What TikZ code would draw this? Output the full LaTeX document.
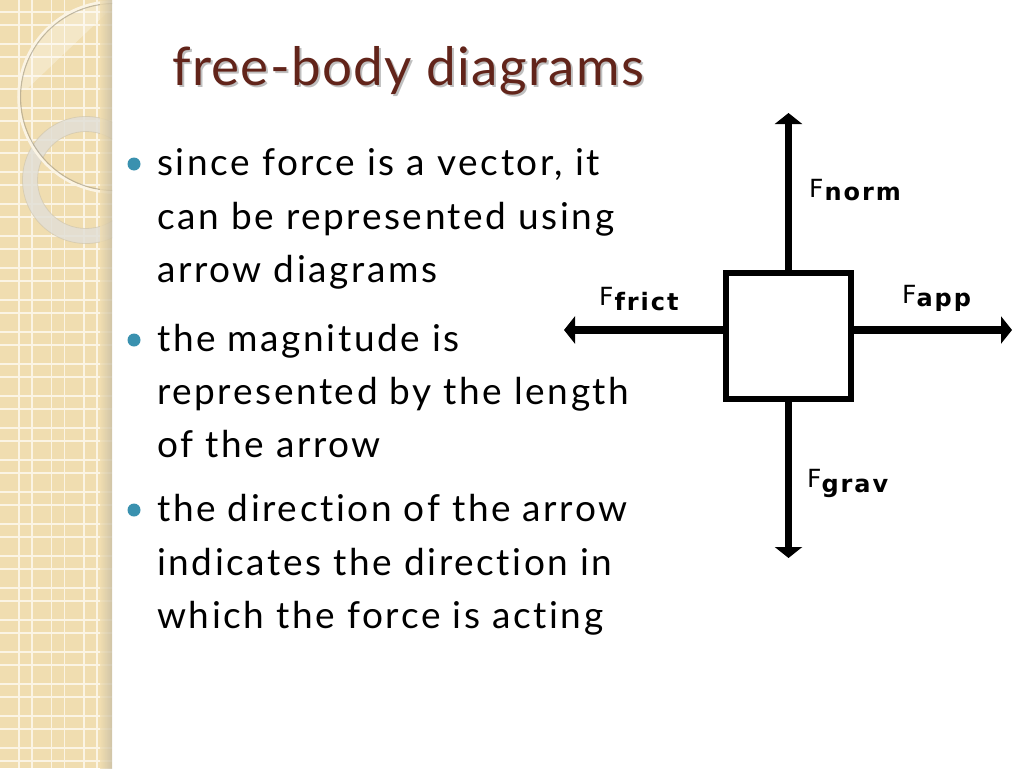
\documentclass[tikz,border=0pt]{standalone}
\usepackage{fontspec}
\usepackage{graphicx}
\setmainfont{Lato}[Ligatures=NoCommon]
\newfontfamily\bodyfont{Lato}[Ligatures=NoCommon, LetterSpace=7]
\newfontfamily\titlefont{Lato}[Ligatures=NoCommon, LetterSpace=2.5]
\newfontfamily\labelfont{DejaVu Sans}
\newfontfamily\labelboldfont{DejaVu Sans Bold}[LetterSpace=8]
\usetikzlibrary{arrows.meta}
\definecolor{stripbeige}{RGB}{240,221,176}
\definecolor{gridwhite}{RGB}{251,244,228}
\definecolor{stripshadow}{RGB}{200,190,165}
\definecolor{titlebrown}{RGB}{98,36,26}
\definecolor{bulletteal}{RGB}{58,145,175}
\definecolor{ringgray}{RGB}{226,223,214}
\tikzset{
  bodyline/.style={anchor=base west, inner sep=0pt, font=\bodyfont\fontsize{37}{37}\selectfont},
  titletext/.style={anchor=base west, inner sep=0pt, font=\titlefont\fontsize{53}{53}\selectfont},
  bulletdot/.style={circle, fill=bulletteal, inner sep=0pt, minimum size=13pt},
  force/.style={line width=7.5pt, -{Triangle[width=27pt,length=11pt]}},
  body/.style={draw, line width=6pt, minimum width=125pt, minimum height=126pt, inner sep=0pt, fill=white},
  forcelabel/.style={anchor=base west, inner sep=0pt},
}
\newcommand{\Fsym}{{\labelfont\fontsize{25}{25}\selectfont F}}
\newcommand{\Fsub}[2]{\raisebox{-#1pt}{\labelboldfont\fontsize{24}{24}\selectfont #2}}
\begin{document}
\begin{tikzpicture}[x=1pt,y=-1pt]
\useasboundingbox (0,0) rectangle (1024,768);
\fill[white] (0,0) rectangle (1024,768);
% left decorative strip
\begin{scope}
\clip (0,0) rectangle (112,768);
\fill[stripbeige] (0,0) rectangle (112,768);
\foreach \i in {0,...,3} {
  \draw[gridwhite, line width=1.6pt] ({32.5*\i-13.5},0) -- ({32.5*\i-13.5},768);
  \draw[gridwhite, line width=1.6pt] ({32.5*\i-0.5},0) -- ({32.5*\i-0.5},768);
}
\foreach \j in {0,...,24} {
  \draw[gridwhite, line width=1.6pt] (0,{32*\j+12}) -- (112,{32*\j+12});
  \draw[gridwhite, line width=1.6pt] (0,{32*\j+25}) -- (112,{32*\j+25});
}
\begin{scope}
\clip (114,97) circle (95);
\fill[white, opacity=0.3] (0,0) -- (112,0) -- (112,8) -- (28,88) -- (0,88) -- cycle;
\end{scope}
\draw[ringgray, opacity=0.85, line width=15pt] (86,180) circle (56);
\draw[stripshadow, opacity=0.5, line width=0.8pt] (86,180) circle (48.5);
\draw[stripshadow, opacity=0.5, line width=0.8pt] (86,180) circle (63.5);
\draw[stripshadow!80!black, opacity=0.6, line width=1.2pt] (114,97) circle (93.5);
\draw[gridwhite, line width=2.5pt] (114,97) circle (95.5);
\shade[left color=stripbeige, right color=stripshadow, opacity=0.8] (100,0) rectangle (112,768);
\end{scope}
% title
\node[titletext, text=black, opacity=0.25] (titleshadow) at (174,87) {free-body diagrams};
\node[titletext, text=titlebrown] (title) at (172,85) {free-body diagrams};
% bullets
\node[bulletdot] (b1) at (134,164) {};
\node[bodyline] (l1) at (157,175) {since force is a vector, it};
\node[bodyline] (l2) at (157,229) {can be represented using};
\node[bodyline] (l3) at (157,282) {arrow diagrams};
\node[bulletdot] (b2) at (134,340) {};
\node[bodyline] (l4) at (157,351) {the magnitude is};
\node[bodyline] (l5) at (157,404) {represented by the length};
\node[bodyline] (l6) at (157,457) {of the arrow};
\node[bulletdot] (b3) at (134,510) {};
\node[bodyline] (l7) at (157,521) {the direction of the arrow};
\node[bodyline] (l8) at (157,575) {indicates the direction in};
\node[bodyline] (l9) at (157,628) {which the force is acting};
% free-body diagram
\node[body] (box) at (788.5,336) {};
\coordinate (tipN) at (788.5,113);
\coordinate (tipS) at (788.5,558);
\coordinate (tipW) at (564,330);
\coordinate (tipE) at (1012,330);
\draw[force] (box.north) -- (tipN);
\draw[force] (box.south) -- (tipS);
\draw[force] (box.west |- tipW) -- (tipW);
\draw[force] (box.east |- tipE) -- (tipE);
\node[forcelabel] (lnorm) at (809,197) {\Fsym\kern1pt\Fsub{3}{norm}};
\node[forcelabel] (lfrict) at (599,305) {\Fsym\kern1pt\Fsub{5}{frict}};
\node[forcelabel] (lapp) at (902,303) {\Fsym\kern0pt\Fsub{3}{app}};
\node[forcelabel] (lgrav) at (807,487) {\Fsym\kern0pt\Fsub{5}{grav}};
\end{tikzpicture}
\end{document}
